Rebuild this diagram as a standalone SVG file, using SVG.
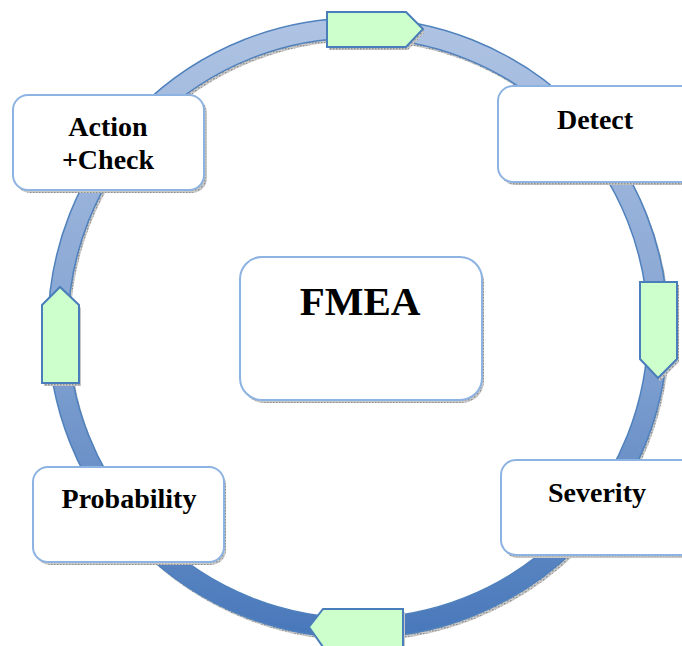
<svg xmlns="http://www.w3.org/2000/svg" width="682" height="646" viewBox="0 0 682 646">
<defs>
<linearGradient id="ringGrad" x1="0" y1="0" x2="0" y2="1">
<stop offset="0" stop-color="#aec3e3"/>
<stop offset="0.5" stop-color="#86a5d3"/>
<stop offset="1" stop-color="#4a79bb"/>
</linearGradient>
<pattern id="shadowPat" width="3" height="3" patternUnits="userSpaceOnUse">
<rect width="3" height="3" fill="#c8c8c8"/>
<rect width="1.5" height="1.5" fill="#909090"/>
</pattern>
</defs>
<style>
.box{fill:#ffffff;stroke:#8db3e2;stroke-width:2}
.shadow{fill:url(#shadowPat);stroke:none}
.arrow{fill:#ccffcc;stroke:#4a7ebb;stroke-width:2;stroke-linejoin:miter}
.lbl{font-family:"Liberation Serif","Times New Roman",serif;font-weight:bold;font-size:28px;fill:#000;text-anchor:middle}
.edge{fill:none;stroke:#4f81bd;stroke-width:1.5}
</style>
<rect width="682" height="646" fill="#ffffff"/>
<g id="connectors">
<circle cx="360" cy="331" r="300" fill="none" stroke="url(#shadowPat)" stroke-width="20"/>
<circle cx="358" cy="328" r="300" fill="none" stroke="url(#ringGrad)" stroke-width="20"/>
<circle class="edge" cx="358" cy="328" r="310"/>
<circle class="edge" cx="358" cy="328" r="290"/>
<polygon class="shadow" points="329,15 408,15 425,32 408,50 329,50"/>
<polygon class="arrow" points="327,12 406,12 423,29 406,47 327,47"/>
<polygon class="shadow" points="642,285 679,285 679,362 660,381 642,362"/>
<polygon class="arrow" points="640,282 677,282 677,359 658,378 640,359"/>
<polygon class="shadow" points="311,630 325,612 405,612 405,650 325,650"/>
<polygon class="arrow" points="309,627 323,609 403,609 403,647 323,647"/>
<polygon class="shadow" points="44,308 62,290 81,308 81,386 44,386"/>
<polygon class="arrow" points="42,305 60,287 79,305 79,383 42,383"/>
</g>
<g id="node-action">
<rect class="shadow" x="15" y="98" width="192" height="95" rx="15"/>
<rect class="box" x="13" y="95" width="191" height="95" rx="15"/>
<text class="lbl" x="108" y="136">Action</text>
<text class="lbl" x="108" y="169">+Check</text>
</g>
<g id="node-detect">
<rect class="shadow" x="500" y="89" width="200" height="96" rx="15"/>
<rect class="box" x="498" y="86" width="200" height="96" rx="15"/>
<text class="lbl" x="595" y="129">Detect</text>
</g>
<g id="node-fmea">
<rect class="shadow" x="242" y="260" width="242" height="143" rx="22"/>
<rect class="box" x="240" y="257" width="242" height="143" rx="22"/>
<text class="lbl" x="360" y="315" style="font-size:41px">FMEA</text>
</g>
<g id="node-severity">
<rect class="shadow" x="503" y="463" width="200" height="95" rx="15"/>
<rect class="box" x="501" y="460" width="200" height="95" rx="15"/>
<text class="lbl" x="597" y="502">Severity</text>
</g>
<g id="node-probability">
<rect class="shadow" x="35" y="470" width="191" height="95" rx="15"/>
<rect class="box" x="33" y="467" width="191" height="95" rx="15"/>
<text class="lbl" x="129" y="508">Probability</text>
</g>
</svg>
